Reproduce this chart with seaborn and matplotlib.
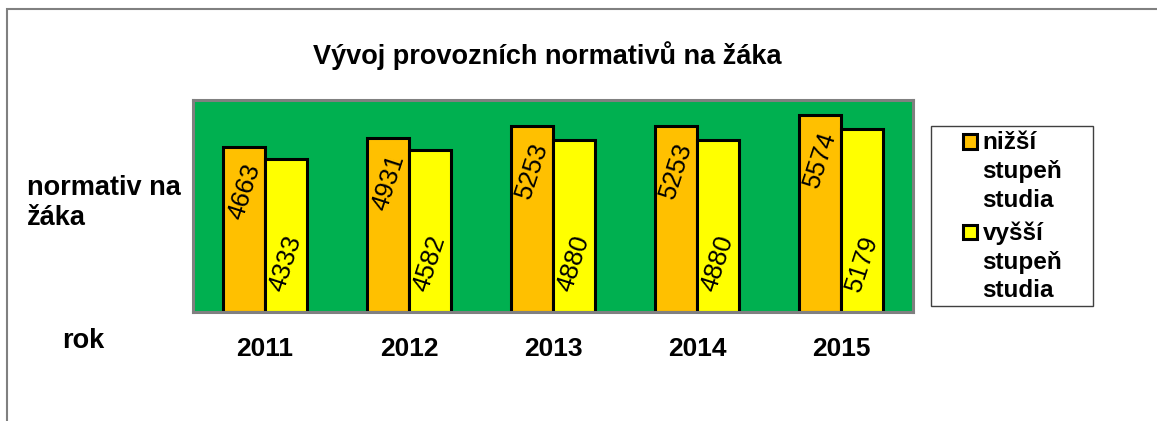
import seaborn as sns
import matplotlib.pyplot as plt
import pandas as pd
from matplotlib.patches import Rectangle
from matplotlib.legend_handler import HandlerPatch

# data
roky = ["2011", "2012", "2013", "2014", "2015"]
nizsi = [4663, 4931, 5253, 5253, 5574]
vyssi = [4333, 4582, 4880, 4880, 5179]
stupne = ["nižší\nstupeň\nstudia", "vyšší\nstupeň\nstudia"]
barvy = ["#FFC000", "#FFFF00"]

df = pd.DataFrame({
    "rok": roky * 2,
    "hodnota": nizsi + vyssi,
    "stupen": [stupne[0]] * len(roky) + [stupne[1]] * len(roky),
})

sns.set_style("white")
plt.rcParams["font.family"] = ["Liberation Sans", "DejaVu Sans"]
plt.rcParams["text.color"] = "black"
plt.rcParams["axes.labelcolor"] = "black"
plt.rcParams["xtick.color"] = "black"

W, H = 1157, 421
fig = plt.figure(figsize=(W / 100, H / 100), dpi=100)
ax = fig.add_axes([193 / W, 1 - 312 / H, 720 / W, 212 / H])

sns.barplot(data=df, x="rok", y="hodnota", hue="stupen", palette=barvy, saturation=1,
            width=0.58, edgecolor="black", linewidth=2.2, ax=ax, legend=False)

ax.set_facecolor("#00B050")
ax.set_ylim(0, 6000)
ax.set_yticks([])
for s in ax.spines.values():
    s.set_visible(True)
    s.set_color("#808080")
    s.set_linewidth(2.2)

ax.tick_params(axis="x", length=0, pad=18)
for t in ax.get_xticklabels():
    t.set_fontsize(19)
    t.set_fontweight("bold")

ax.set_ylabel("normativ na\nžáka", rotation=0, ha="left", va="center",
              fontsize=19.5, fontweight="bold")
ax.yaxis.set_label_coords(-0.2306, 0.515)
ax.set_xlabel("rok", ha="left", va="center", fontsize=19.5, fontweight="bold")
ax.xaxis.set_label_coords(-0.182, -0.135)

# popisky hodnot
for i, cont in enumerate(ax.containers):
    for bar in cont:
        x = bar.get_x() + bar.get_width() / 2
        v = bar.get_height()
        if i == 0:
            ax.annotate(f"{v:.0f}", (x, v), xytext=(0, -32), textcoords="offset points",
                        ha="center", va="center", rotation=72, fontsize=18.5)
        else:
            ax.annotate(f"{v:.0f}", (x, 0), xytext=(0, 35), textcoords="offset points",
                        ha="center", va="center", rotation=72, fontsize=18.5)

fig.text(547 / W, 1 - 56 / H, "Vývoj provozních normativů na žáka",
         ha="center", va="center", fontsize=19.5, fontweight="bold")


# maly ctverecek v legende, posunuty dolu k prvnimu radku
def ctverec(legend, orig_handle, xdescent, ydescent, width, height, fontsize):
    return Rectangle((-xdescent, -ydescent + 3), width, width)


leg = ax.legend(handles=list(ax.containers[0][:1]) + list(ax.containers[1][:1]),
                labels=stupne, loc="upper left",
                bbox_to_anchor=(963 / W, 1 - 131 / H), bbox_transform=fig.transFigure,
                frameon=False, borderpad=0, borderaxespad=0, handlelength=0.58,
                handleheight=1.0, handletextpad=0.22, labelspacing=0.4,
                handler_map={Rectangle: HandlerPatch(patch_func=ctverec)},
                prop={"size": 17.5, "weight": "bold"})
for col in leg._legend_handle_box.get_children():
    for item in col.get_children():
        item.align = "top"
for t in leg.get_texts():
    t.set_linespacing(1.32)

fig.patches.append(Rectangle((931 / W, 1 - 306 / H), 162 / W, 180 / H,
                             transform=fig.transFigure, fill=False,
                             edgecolor="#404040", linewidth=1))
fig.patches.append(Rectangle((7 / W, -0.1), 1.2, 1 - 9 / H + 0.1,
                             transform=fig.transFigure, fill=False,
                             edgecolor="#808080", linewidth=1.5))

fig.savefig("out.png", dpi=100)
